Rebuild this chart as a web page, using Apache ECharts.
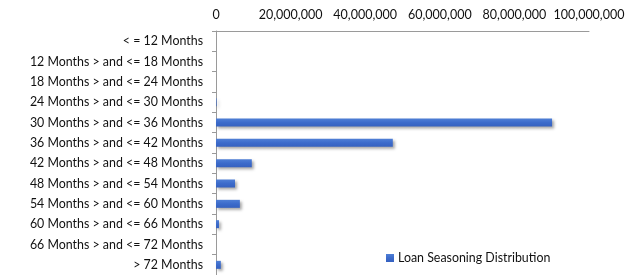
<!DOCTYPE html>
<html>
<head>
<meta charset="utf-8">
<script src="https://cdn.jsdelivr.net/npm/echarts@6/dist/echarts.min.js"></script>
<style>html,body{margin:0;padding:0;background:#fff;}#c{width:630px;height:275px;}</style>
</head>
<body>
<div id="c"></div>
<script>
const categories = ["< = 12 Months","12 Months > and <= 18 Months","18 Months > and <= 24 Months","24 Months > and <= 30 Months","30 Months > and <= 36 Months","36 Months > and <= 42 Months","42 Months > and <= 48 Months","48 Months > and <= 54 Months","54 Months > and <= 60 Months","60 Months > and <= 66 Months","66 Months > and <= 72 Months","> 72 Months"];
const values = [0, 0, 0, 150000, 90100000, 47400000, 9600000, 5100000, 6400000, 800000, 0, 1300000];
const seriesName = "Loan Seasoning Distribution";
const xTicks = [0, 20000000, 40000000, 60000000, 80000000, 100000000];

const chart = echarts.init(document.getElementById('c'), null, {renderer: 'canvas'});
const font = 'Lato, Liberation Sans, Arial, sans-serif';
chart.setOption({
  animation: false,
  backgroundColor: '#fff',
  textStyle: {fontFamily: font},
  grid: {left: 216, right: 41, top: 31, bottom: 0, containLabel: false},
  legend: {
    data: [seriesName], left: 381, top: 247, icon: 'rect', itemWidth: 8, itemHeight: 8, itemGap: 4,
    textStyle: {fontSize: 12.4, color: '#111', fontFamily: font, padding: [0,0,0,-1]}
  },
  xAxis: {
    type: 'value', position: 'top', min: 0, max: 100000000, interval: 20000000,
    axisLine: {show: true, lineStyle: {color: '#9a9a9a', width: 1}},
    axisTick: {show: false},
    splitLine: {show: false},
    axisLabel: {fontSize: 12.5, color: '#111', margin: 10, fontFamily: font,
      formatter: v => xTicks.includes(v) ? v.toLocaleString('en-US') : ''}
  },
  yAxis: {
    type: 'category', data: categories, inverse: true,
    axisLine: {show: true, lineStyle: {color: '#9a9a9a', width: 1}},
    axisTick: {show: true, length: 4, lineStyle: {color: '#9a9a9a'}},
    axisLabel: {fontSize: 12.4, color: '#111', margin: 13, fontFamily: font}
  },
  series: [{
    name: seriesName, type: 'bar', data: values, barWidth: 8,
    itemStyle: {
      color: new echarts.graphic.LinearGradient(0,0,0,1,[{offset:0,color:'#4f7fd6'},{offset:0.5,color:'#3c6bcb'},{offset:1,color:'#3561c0'}]),
      shadowColor: 'rgba(0,0,0,0.35)', shadowBlur: 3, shadowOffsetX: 2, shadowOffsetY: 2
    }
  }]
});
</script>
</body>
</html>
